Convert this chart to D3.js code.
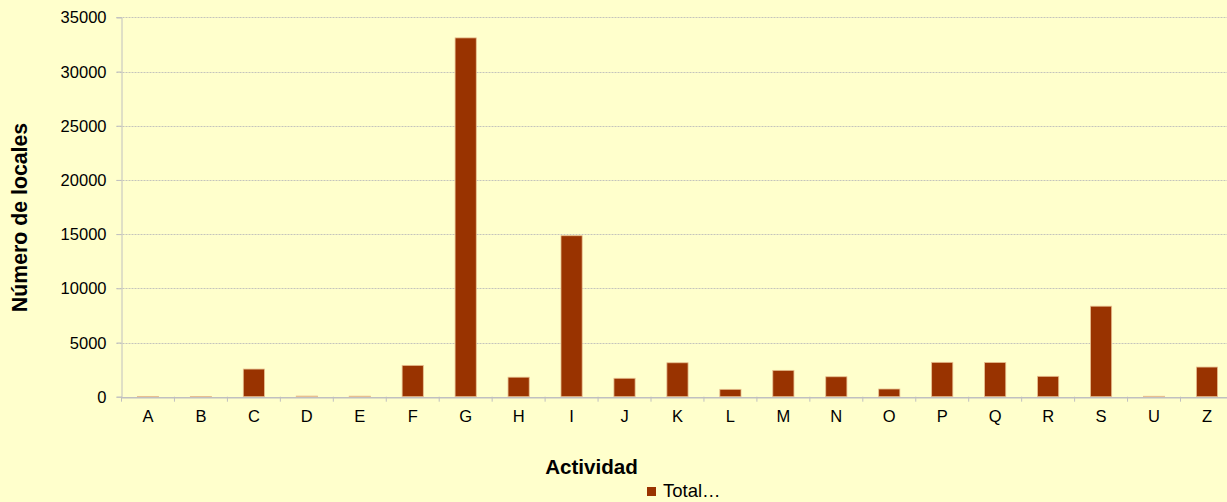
<!DOCTYPE html>
<html>
<head>
<meta charset="utf-8">
<script src="https://cdn.jsdelivr.net/npm/d3@7"></script>
<style>
  body { margin: 0; background: #ffffcc; }
  svg { display: block; font-family: "Liberation Sans", Arial, sans-serif; }
</style>
</head>
<body>
<svg id="chart"></svg>
<script>
// data
var categories = ["A","B","C","D","E","F","G","H","I","J","K","L","M","N","O","P","Q","R","S","U","Z"];
var totals = [30, 20, 2550, 60, 50, 2890, 33100, 1800, 14850, 1700, 3130, 680, 2430, 1840, 710, 3170, 3160, 1880, 8350, 40, 2735];
var yTicks = [0, 5000, 10000, 15000, 20000, 25000, 30000, 35000];
var seriesName = "Total…";

var width = 1227, height = 502;
var plotLeft = 121.5, plotTop = 17.3, plotBottom = 396.7;
var bandW = 52.95;
var plotRight = plotLeft + bandW * categories.length;

var svg = d3.select("#chart").attr("width", width).attr("height", height);

svg.append("rect").attr("width", width).attr("height", height).attr("fill", "#ffffcc");

var x = d3.scaleBand().domain(categories).range([plotLeft, plotRight]).paddingInner(0.6).paddingOuter(0.3);
var y = d3.scaleLinear().domain([0, 35000]).range([plotBottom, plotTop]);

// gridlines
svg.append("g").selectAll("line")
  .data(yTicks.filter(function (d) { return d > 0; }))
  .enter().append("line")
  .attr("x1", plotLeft - 5).attr("x2", plotRight)
  .attr("y1", function (d) { return Math.round(y(d)) + 0.5; })
  .attr("y2", function (d) { return Math.round(y(d)) + 0.5; })
  .attr("stroke", "#c4c4bc")
  .attr("stroke-dasharray", "2,1");

// y axis
var yAxis = svg.append("g")
  .attr("transform", "translate(" + plotLeft + ",0)")
  .call(d3.axisLeft(y).tickValues(yTicks).tickFormat(d3.format("d")).tickSize(5).tickPadding(10));
yAxis.select(".domain").attr("stroke", "#c0c0c0");
yAxis.selectAll(".tick line").attr("stroke", "#c0c0c0");
yAxis.selectAll("text").style("font-size", "16.5px").attr("fill", "#000").attr("dy", "0.34em");

// bars
svg.append("g").selectAll("rect")
  .data(totals)
  .enter().append("rect")
  .attr("x", function (d, i) { return x(categories[i]); })
  .attr("width", x.bandwidth())
  .attr("y", function (d) { return y(d); })
  .attr("height", function (d) { return plotBottom - y(d); })
  .attr("fill", "#993300")
  .attr("stroke", "#e8c090")
  .attr("stroke-width", 0.8);

// x axis
var xAxis = svg.append("g")
  .attr("transform", "translate(0," + (plotBottom + 0.5) + ")")
  .call(d3.axisBottom(x).tickSize(0).tickPadding(14));
xAxis.select(".domain").attr("stroke", "#c0c0c0").attr("stroke-width", 1.5);
xAxis.selectAll("text").style("font-size", "16.5px").attr("fill", "#000").attr("dy", "0.68em");

// category boundary ticks
svg.append("g").selectAll("line")
  .data(d3.range(categories.length + 1))
  .enter().append("line")
  .attr("x1", function (i) { return plotLeft + i * bandW; })
  .attr("x2", function (i) { return plotLeft + i * bandW; })
  .attr("y1", plotBottom).attr("y2", plotBottom + 5)
  .attr("stroke", "#c0c0c0");

// axis titles
svg.append("text")
  .attr("transform", "translate(27,217.5) rotate(-90)")
  .attr("text-anchor", "middle")
  .style("font-size", "21.3px").style("font-weight", "bold")
  .text("Número de locales");

svg.append("text")
  .attr("x", 591.5).attr("y", 474.3)
  .attr("text-anchor", "middle")
  .style("font-size", "20.6px").style("font-weight", "bold")
  .text("Actividad");

// legend
svg.append("rect")
  .attr("x", 647).attr("y", 487).attr("width", 9).attr("height", 9)
  .attr("fill", "#993300");
svg.append("text")
  .attr("x", 663).attr("y", 497.3)
  .style("font-size", "18.5px")
  .text(seriesName);
</script>
</body>
</html>
